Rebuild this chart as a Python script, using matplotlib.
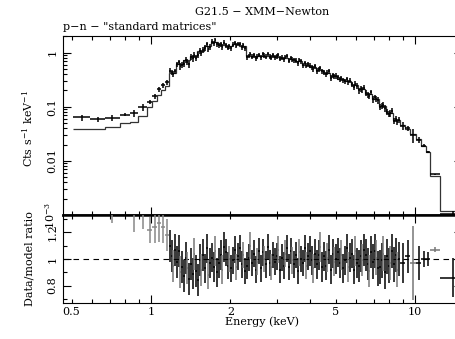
import numpy as np
import matplotlib
matplotlib.use('Agg')
import matplotlib.pyplot as plt
from matplotlib.ticker import FixedLocator, FixedFormatter, FuncFormatter, NullFormatter

plt.rcParams['font.family'] = 'DejaVu Serif'
plt.rcParams['mathtext.fontset'] = 'dejavuserif'

# soft end: bin edges (keV), model (cts/s/keV), data/model ratio, error on ratio
low_edges = [0.507, 0.588, 0.669, 0.763, 0.833, 0.893, 0.966, 1.009, 1.054, 1.091, 1.130, 1.170]
low_model = [0.039, 0.039, 0.043, 0.050, 0.053, 0.067, 0.100, 0.125, 0.165, 0.200, 0.240]
low_ratio = [1.62, 1.51, 1.44, 1.42, 1.42, 1.45, 1.22, 1.24, 1.27, 1.24, 1.18]
low_err = [0.20, 0.15, 0.17, 0.08, 0.22, 0.22, 0.10, 0.12, 0.14, 0.12, 0.12]

# main part: model per bin, four data channels per model bin
mid_edges = [1.170, 1.243, 1.322, 1.405, 1.494, 1.588, 1.688, 1.794, 1.907, 2.027,
             2.154, 2.290, 2.434, 2.588, 2.750, 2.924, 3.108, 3.304, 3.512, 3.733,
             3.968, 4.217, 4.483, 4.765, 5.065, 5.384, 5.723, 6.083, 6.466, 6.873,
             7.305, 7.766, 8.254, 8.774]
mid_model = [0.42, 0.62, 0.72, 0.88, 1.08, 1.32, 1.58, 1.40, 1.30, 1.42,
             1.32, 0.86, 0.86, 0.88, 0.86, 0.84, 0.80, 0.75, 0.69, 0.60,
             0.54, 0.48, 0.42, 0.37, 0.33, 0.30, 0.25, 0.21, 0.175, 0.14,
             0.105, 0.078, 0.057]
mid_ratio = [1.10, 1.02, 0.95, 1.07, 0.98, 1.06, 0.90, 0.94, 0.87, 1.01, 0.93, 0.85,
             0.96, 0.89, 1.04, 0.91, 0.84, 0.99, 0.92, 1.03, 0.93, 1.08, 0.88, 0.97,
             1.01, 0.94, 1.06, 0.90, 0.97, 1.03, 0.92, 1.09, 1.05, 0.95, 1.00, 0.93,
             0.99, 1.07, 0.94, 1.02, 1.08, 0.96, 1.03, 0.91, 0.95, 1.01, 1.10, 0.97,
             1.04, 0.92, 0.98, 1.06, 0.93, 1.05, 1.00, 0.96, 1.09, 0.97, 0.94, 1.03,
             0.98, 1.02, 1.07, 0.92, 1.01, 0.95, 1.04, 1.08, 0.94, 1.06, 0.99, 0.96,
             1.03, 0.91, 1.05, 1.00, 0.97, 1.08, 0.95, 1.02, 1.06, 0.99, 0.93, 1.04,
             0.96, 1.03, 1.09, 0.94, 1.02, 0.95, 1.01, 1.07, 0.92, 1.04, 0.98, 1.00,
             1.05, 0.97, 1.03, 0.93, 0.99, 1.08, 0.94, 1.01, 1.04, 0.92, 1.06, 0.97,
             0.95, 1.02, 0.99, 1.07, 1.03, 0.96, 0.91, 1.05, 0.98, 1.06, 1.01, 0.93,
             0.94, 0.99, 1.04, 0.90, 1.02, 0.95, 0.97, 1.06, 0.96, 1.03, 0.92, 1.00]
mid_err = [0.12, 0.12, 0.12, 0.12, 0.12, 0.11, 0.11, 0.11, 0.10, 0.10,
           0.10, 0.10, 0.10, 0.10, 0.10, 0.10, 0.10, 0.10, 0.10, 0.10,
           0.11, 0.11, 0.11, 0.11, 0.11, 0.11, 0.11, 0.12, 0.12, 0.13,
           0.13, 0.13, 0.13]

# hard end
high_edges = [8.774, 9.166, 9.574, 10.09, 10.54, 11.01, 11.40, 12.43, 15.5]
high_model = [0.046, 0.039, 0.031, 0.025, 0.019, 0.0145, 0.0053, 0.0012]
high_ratio = [0.97, 1.02, 0.97, 0.97, 1.00, 1.00, 1.07, 0.86]
high_err = [0.15, 0.125, 0.28, 0.125, 0.06, 0.05, 0.02, 0.145]

# build channel arrays
lo, hi, mod, rat, err = [], [], [], [], []
for i in range(len(low_model)):
    lo.append(low_edges[i]); hi.append(low_edges[i + 1])
    mod.append(low_model[i]); rat.append(low_ratio[i]); err.append(low_err[i])
n_low = len(lo)
nsub = len(mid_ratio) // len(mid_model)
for i in range(len(mid_model)):
    sub = np.geomspace(mid_edges[i], mid_edges[i + 1], nsub + 1)
    for k in range(nsub):
        lo.append(sub[k]); hi.append(sub[k + 1])
        mod.append(mid_model[i]); rat.append(mid_ratio[nsub * i + k]); err.append(mid_err[i])
for i in range(len(high_model)):
    lo.append(high_edges[i]); hi.append(high_edges[i + 1])
    mod.append(high_model[i]); rat.append(high_ratio[i]); err.append(high_err[i])

lo = np.array(lo); hi = np.array(hi); mod = np.array(mod)
rat = np.array(rat); err = np.array(err)
ec = np.sqrt(lo * hi)
xe = [ec - lo, hi - ec]
data = mod * rat

model_edges = low_edges + mid_edges[1:] + high_edges[1:]
model_vals = low_model + mid_model + high_model

W, H = 455, 339
fig = plt.figure(figsize=(W / 100, H / 100), dpi=100)
x0, x1 = 63, 461.5
ax1 = fig.add_axes([x0 / W, 1 - 215 / H, (x1 - x0) / W, (215 - 36) / H])
ax2 = fig.add_axes([x0 / W, 1 - 303 / H, (x1 - x0) / W, (303 - 215) / H], sharex=ax1)

# upper panel
ax1.stairs(model_vals, model_edges, baseline=None, color='#333333', lw=0.9, zorder=2)
ax1.errorbar(ec, data, xerr=xe, yerr=mod * err, fmt='none', ecolor='k',
             elinewidth=1.1, capsize=0, zorder=3)
ax1.set_xscale('log')
ax1.set_yscale('log')
ax1.set_xlim(0.464, 15.0)
ax1.set_ylim(1e-3, 2.02)

# lower panel
cols = ['#888888' if i < n_low else ('#777777' if i % 4 == 1 else 'k') for i in range(len(ec))]
ax2.axhline(1.0, color='k', lw=0.8, dashes=(5, 4), zorder=1)
for i in range(len(ec)):
    ax2.errorbar(ec[i], rat[i], xerr=[[xe[0][i]], [xe[1][i]]], yerr=err[i], fmt='none',
                 ecolor=cols[i], elinewidth=1.1, capsize=0, zorder=3)
ax2.set_ylim(0.668, 1.332)

# ticks
for ax in (ax1, ax2):
    ax.xaxis.set_major_locator(FixedLocator([1, 10]))
    ax.xaxis.set_minor_locator(FixedLocator([0.5, 0.6, 0.7, 0.8, 0.9, 2, 3, 4, 5, 6, 7, 8, 9]))
    ax.tick_params(which='both', direction='in', top=True, right=True, width=0.8, labelsize=8)
    ax.tick_params(which='major', length=6)
    ax.tick_params(which='minor', length=3)
    ax.tick_params(axis='y', pad=4)
    for s in ax.spines.values():
        s.set_linewidth(0.8)

ax1.xaxis.set_major_formatter(NullFormatter())
ax1.xaxis.set_minor_formatter(NullFormatter())
ax2.xaxis.set_major_formatter(FuncFormatter(lambda v, p: '%g' % v))
ax2.xaxis.set_minor_formatter(FuncFormatter(lambda v, p: '%g' % v if v in (0.5, 2, 5) else ''))
ax2.tick_params(axis='x', which='both', pad=3)

ax1.yaxis.set_major_locator(FixedLocator([1e-3, 1e-2, 0.1, 1]))
ax1.yaxis.set_major_formatter(FixedFormatter(['$10^{-3}$', '0.01', '0.1', '1']))
ax1.yaxis.set_minor_locator(FixedLocator([m * d for d in (1e-3, 1e-2, 0.1, 1) for m in range(2, 10)]))
ax1.yaxis.set_minor_formatter(NullFormatter())

ax2.yaxis.set_major_locator(FixedLocator([0.8, 1.0, 1.2]))
ax2.yaxis.set_major_formatter(FixedFormatter(['0.8', '1', '1.2']))
ax2.yaxis.set_minor_locator(FixedLocator([0.7, 0.9, 1.1, 1.3]))

for ax in (ax1, ax2):
    for t in ax.get_yticklabels():
        t.set_rotation(90)
        t.set_va('center')

ax1.spines['bottom'].set_linewidth(1.8)
ax2.spines['top'].set_linewidth(1.8)

fig.text(262 / W, 1 - 316.5 / H, 'Energy (keV)', ha='center', va='top', fontsize=8)
fig.text(28 / W, 1 - 128 / H, 'Cts s$^{-1}$ keV$^{-1}$', rotation=90, ha='center', va='center', fontsize=8)
fig.text(30 / W, 1 - 259 / H, 'Data/model ratio', rotation=90, ha='center', va='center', fontsize=8)
fig.text(262 / W, 1 - 12 / H, 'G21.5 \u2212 XMM\u2212Newton', ha='center', va='center', fontsize=8)
fig.text(x0 / W, 1 - 27.5 / H, 'p\u2212n \u2212 "standard matrices"', ha='left', va='center', fontsize=8)

fig.savefig('out.png', dpi=100)
